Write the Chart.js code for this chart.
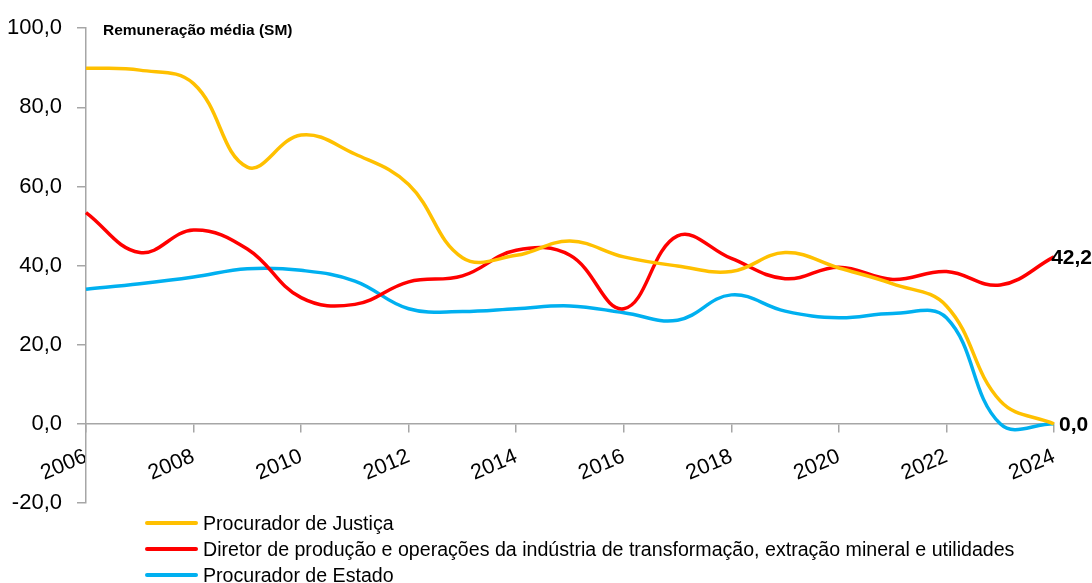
<!DOCTYPE html>
<html>
<head>
  <title>Remuneração média (SM)</title>
  <style>
    body {
      margin: 0;
      background: #fff;
      font-family: "Liberation Sans", Arial, sans-serif;
    }
    .wrap {
      position: relative;
      width: 1092px;
      height: 583px;
    }
    #legend {
      position: absolute;
      left: 145px;
      top: 510px;
    }
    .item {
      display: flex;
      align-items: center;
      height: 26px;
      font-size: 19.6px;
      color: #000;
      white-space: nowrap;
    }
    .swatch {
      width: 53px;
      height: 4px;
      border-radius: 2px;
      margin-right: 5px;
    }
  </style>
</head>
<body>
  <div class="wrap">
    <canvas id="chart" width="1092" height="583"></canvas>
    <div id="legend"></div>
  </div>

  <script src="https://cdn.jsdelivr.net/npm/chart.js"></script>

  <script>
    const years = ['2006', '2007', '2008', '2009', '2010', '2011', '2012', '2013', '2014', '2015',
                   '2016', '2017', '2018', '2019', '2020', '2021', '2022', '2023', '2024'];
    const justica = [89.9, 89.4, 86.0, 64.9, 73.0, 68.2, 60.5, 42.0, 42.6, 46.2,
                     42.2, 39.9, 38.5, 43.3, 39.4, 35.4, 29.8, 5.8, 0.0];
    const diretor = [53.4, 43.3, 49.0, 44.2, 31.9, 30.2, 35.9, 37.4, 43.9, 42.6,
                     29.1, 47.5, 41.8, 36.7, 39.6, 36.5, 38.5, 35.1, 42.2];
    const estado = [34.0, 35.4, 37.1, 39.2, 38.8, 36.1, 29.1, 28.4, 29.1, 29.8,
                    28.1, 26.2, 32.6, 28.5, 26.8, 27.9, 26.8, 0.0, 0.0];
    const seriesNames = [
      'Procurador de Justiça',
      'Diretor de produção e operações da indústria de transformação, extração mineral e utilidades',
      'Procurador de Estado'
    ];
    const seriesColors = ['#FFC000', '#FF0000', '#00B0F0'];
    const yMin = -20, yMax = 100, yStep = 20;

    const fmt = v => v.toFixed(1).replace('.', ',');
    const axisColor = '#a6a6a6';
    const FONT = '"Liberation Sans", Arial, sans-serif';

    // titulo no canto superior
    const titlePlugin = {
      id: 'titleText',
      afterDraw(chart) {
        const ctx = chart.ctx;
        ctx.save();
        ctx.font = 'bold 15.5px ' + FONT;
        ctx.fillStyle = '#000';
        ctx.textAlign = 'left';
        ctx.textBaseline = 'middle';
        ctx.fillText('Remuneração média (SM)', 103, 31);
        ctx.restore();
      }
    };

    // rótulos do último valor
    const endLabels = {
      id: 'endLabels',
      afterDatasetsDraw(chart) {
        const ctx = chart.ctx;
        const done = [];
        ctx.save();
        ctx.font = 'bold 21px ' + FONT;
        ctx.fillStyle = '#000';
        ctx.textBaseline = 'middle';
        chart.data.datasets.forEach((ds, i) => {
          const last = ds.data.length - 1;
          const v = ds.data[last];
          if (done.includes(v)) return;
          done.push(v);
          const pt = chart.getDatasetMeta(i).data[last];
          const txt = fmt(v);
          const w = ctx.measureText(txt).width;
          const x = Math.min(pt.x + 5, chart.width - w);
          ctx.fillText(txt, x, pt.y + 1);
        });
        ctx.restore();
      }
    };

    const data = [justica, diretor, estado];

    new Chart(document.getElementById('chart'), {
      type: 'line',
      data: {
        labels: years,
        datasets: data.map((d, i) => ({
          label: seriesNames[i],
          data: d,
          borderColor: seriesColors[i],
          backgroundColor: seriesColors[i],
          borderWidth: 3.5,
          pointRadius: 0,
          tension: 0.4,
          fill: false
        }))
      },
      options: {
        responsive: false,
        animation: false,
        layout: { padding: { top: 27, right: 38, bottom: 80, left: 0 } },
        plugins: {
          legend: { display: false },
          tooltip: { enabled: false }
        },
        scales: {
          x: {
            position: { y: 0 },
            grid: { drawOnChartArea: false, tickLength: 8, color: axisColor, lineWidth: 1.5 },
            border: { color: axisColor, width: 1.5 },
            ticks: {
              autoSkip: false,
              minRotation: 23,
              maxRotation: 23,
              padding: 12,
              color: '#000',
              font: { family: FONT, size: 21.5 },
              callback: (v, i) => (i % 2 === 0 ? years[i] : null)
            }
          },
          y: {
            min: yMin,
            max: yMax,
            grid: { drawOnChartArea: false, tickLength: 9, color: axisColor, lineWidth: 1.5 },
            border: { color: axisColor, width: 1.5 },
            ticks: {
              stepSize: yStep,
              padding: 15,
              color: '#000',
              font: { family: FONT, size: 22 },
              callback: v => fmt(v)
            },
            afterFit: s => { s.width = 86; }
          }
        }
      },
      plugins: [titlePlugin, endLabels]
    });

    // legenda em HTML, uma linha por série
    const legend = document.getElementById('legend');
    seriesNames.forEach((name, i) => {
      const row = document.createElement('div');
      row.className = 'item';
      const sw = document.createElement('span');
      sw.className = 'swatch';
      sw.style.background = seriesColors[i];
      const t = document.createElement('span');
      t.textContent = name;
      row.appendChild(sw);
      row.appendChild(t);
      legend.appendChild(row);
    });
  </script>
</body>
</html>
